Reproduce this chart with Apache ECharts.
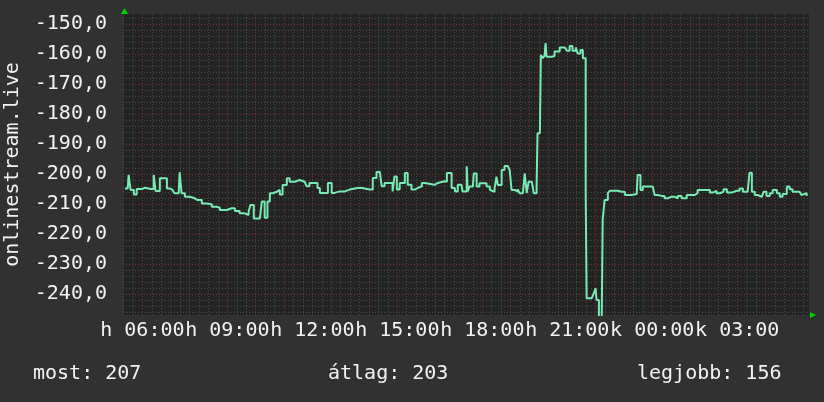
<!DOCTYPE html>
<html>
<head>
<meta charset="utf-8">
<script src="https://cdn.jsdelivr.net/npm/echarts@6/dist/echarts.min.js"></script>
<style>
html, body { margin: 0; padding: 0; background: #313131; }
#chart { width: 824px; height: 402px; }
</style>
</head>
<body>
<div id="chart"></div>
<script>
// mérési időpontok (perc, első nap 00:00-tól) és értékek
var minutes = [323,329,331,335,342,346,348,354,359,365,369,378,382,384,388,397,403,412,418,424,
  428,437,439,443,450,460,471,477,486,496,507,517,524,539,549,556,566,577,585,589,
  596,602,609,613,615,619,625,630,636,645,651,657,666,672,683,693,
  704,708,714,725,731,736,746,753,761,767,778,789,799,816,825,842,848,856,863,867,
  873,884,890,894,899,905,911,916,922,930,937,943,952,958,979,986,1000,1005,1009,1015,
  1022,1028,1036,1038,1047,1049,
  1053,1060,1062,1068,1074,1081,1089,1096,1100,1106,1110,1113,1121,1127,1134,1138,1142,1149,1155,1159,
  1166,1170,1174,1178,1185,1189,1195,1197,1202,1204,1208,1212,1214,1216,1227,1233,1244,1255,1259,1265,
  1271,1278,1282,1288,1293,1297,1299,1301,1312,1316,1320,1322,1327,1333,1335,1339,1346,
  1350,1360,1367,1375,1382,1388,1396,1407,1409,1415,1420,1435,1441,1445,1451,1460,1466,1473,1481,1488,
  1494,1502,1513,1519,1530,1536,1555,1562,1568,1576,1583,1591,1598,1608,1619,1625,1632,1642,1646,1651,
  1657,1663,1672,1676,1682,1689,1695,1704,1710,1716,1725,1731,1737,1746,1752,1756,1759,1767];

var values = [-204.8,-204.8,-200.3,-205.3,-206.8,-206.8,-205,-205,-204.6,-204.6,-205,-205,-205,-200.3,-205.7,-201.4,-201.4,-204.8,-205.3,-205.3,
  -206.4,-206.4,-199.4,-206.4,-207.6,-208.1,-208.7,-208.7,-209.8,-210.1,-210.9,-211.2,-212,-211.4,-211.4,-212.3,-213.1,-213.7,-212.6,-210.3,
  -214.8,-214.8,-214.2,-209.2,-209.2,-214.6,-209.2,-206.4,-205.9,-205.3,-206.8,-203.7,-201.4,-202.6,-202,-202.6,
  -202.4,-204.1,-203,-203,-204.7,-206.3,-206.3,-203,-206.3,-205.8,-205.8,-205.2,-204.7,-204.7,-205.2,-205.2,-201.3,-199.3,-199.3,-204.1,
  -203,-203,-205.8,-200.8,-205.2,-203,-203,-199.7,-203.6,-205.2,-204.7,-204.1,-203,-203.6,-203,-202.4,-202.6,-199.7,-199.7,-204.7,
  -205.8,-203.6,-203,-205.8,-197.4,-205.8,
  -204.2,-204.2,-199.8,-204.2,-203.1,-203.1,-204.2,-205.3,-205.9,-204.8,-200.9,-203.7,-198.7,-197.3,-197.3,-198.7,-205.3,-205.9,-205.1,-206.4,
  -206.7,-199.8,-206.4,-202.6,-202.6,-206.4,-204.2,-186.4,-186.4,-160.3,-161.4,-160.5,-156.4,-160.9,-160.7,-159.2,-157.8,-158.1,-158.9,-157.3,
  -158.9,-157.8,-159.8,-158.7,-161.4,-161.4,-206.4,-241.4,-241.4,-239.8,-238.1,-242,-248,-248,-215.3,-208.7,-206.4,
  -205.6,-205.6,-205.9,-205.9,-207,-207,-206.7,-206.4,-200.3,-205.3,-204.2,-204.2,-204.8,-207,-207.3,-207.3,-208.1,-207.6,-207.6,-208.1,
  -207.3,-208.1,-207,-207,-206.4,-205.3,-205.3,-206.2,-205.6,-206.4,-205.9,-205.1,-206.2,-205.6,-205.6,-204.8,-205.9,-205.9,-199.6,-205.9,
  -207,-207.6,-207,-205.9,-207.3,-206.4,-205.3,-206.4,-207.6,-206.7,-204.2,-205.1,-205.9,-205.9,-206.4,-207,-206.4,-207.3];

// tengelyfeliratok (két csoportban, hogy ne takarják el egymást)
var yLabels = [-150,-160,-170,-180,-190,-200,-210,-220,-230,-240];
var xLabelsA = [360,720,1080,1440];
var xLabelsB = [540,900,1260,1620];
var dayNames = ['h', 'k'];

// összesítő
var statLabels = ['most: ', 'átlag: ', 'legjobb: '];
var statValues = [207, 203, 156];

var xMin = 319, xMax = 1772;
var yMin = -247, yMax = -146.67;

var seriesData = minutes.map(function (m, i) { return [m, values[i]]; });

// rács vonalak helye
var minorX = [], hourX = [], minorY = [];
for (var m = 320; m <= 1760; m += 20) minorX.push(m);
for (var h = 360; h <= 1740; h += 60) hourX.push(h);
for (var v = -146; v >= -246; v -= 2) minorY.push(v);

var font = 'DejaVu Sans Mono';
var textColor = '#f2f2f2';

function timeLabel(val) {
  var day = Math.floor(val / 1440);
  var hh = Math.floor((val % 1440) / 60);
  return dayNames[day] + ' ' + (hh < 10 ? '0' : '') + hh + ':00';
}

var chart = echarts.init(document.getElementById('chart'));

var option = {
  animation: false,
  backgroundColor: '#313131',
  grid: {
    left: 123, right: 15, top: 14, bottom: 87,
    outerBoundsMode: 'none',
    show: true, backgroundColor: '#232323', borderWidth: 0
  },
  xAxis: [
    {
      type: 'value', min: xMin, max: xMax, position: 'bottom', z: 0,
      axisLine: { show: false },
      axisTick: { show: false, customValues: minorX },
      axisLabel: {
        customValues: xLabelsB,
        showMinLabel: true, showMaxLabel: true, hideOverlap: false,
        color: textColor, fontFamily: font, fontSize: 20, margin: 6,
        formatter: timeLabel
      },
      splitLine: { show: true, lineStyle: { color: '#4b4b4b', type: [1, 2], width: 1 } }
    },
    {
      type: 'value', min: xMin, max: xMax, position: 'bottom', z: 1,
      axisLine: { show: false },
      axisTick: { show: false, customValues: hourX },
      axisLabel: {
        customValues: xLabelsA,
        showMinLabel: true, showMaxLabel: true, hideOverlap: false,
        color: textColor, fontFamily: font, fontSize: 20, margin: 6,
        formatter: timeLabel
      },
      splitLine: { show: true, lineStyle: { color: '#7a3030', type: [1, 2], width: 1 } }
    }
  ],
  yAxis: [
    {
      type: 'value', min: yMin, max: yMax, position: 'left', z: 0,
      axisLine: { show: false },
      axisTick: { show: false, customValues: minorY },
      axisLabel: { show: false },
      splitLine: { show: true, lineStyle: { color: '#4b4b4b', type: [1, 2], width: 1 } }
    },
    {
      type: 'value', min: yMin, max: yMax, position: 'left', z: 1,
      name: 'onlinestream.live',
      nameLocation: 'middle', nameRotate: 90, nameGap: 100,
      nameTextStyle: { color: textColor, fontFamily: font, fontSize: 20 },
      axisLine: { show: false },
      axisTick: { show: false, customValues: yLabels },
      axisLabel: {
        customValues: yLabels,
        showMinLabel: true, showMaxLabel: true,
        color: textColor, fontFamily: font, fontSize: 20, margin: 16,
        formatter: function (val) { return val.toFixed(1).replace('.', ','); }
      },
      splitLine: { show: true, lineStyle: { color: '#7a3030', type: [1, 2], width: 1 } }
    }
  ],
  series: [
    {
      type: 'line',
      xAxisIndex: 1, yAxisIndex: 1,
      data: seriesData,
      symbol: 'none',
      step: 'end',
      clip: true,
      lineStyle: { color: '#78ebb4', width: 2 },
      z: 5
    }
  ],
  graphic: [
    // zöld nyilak a tengelyek végén
    { type: 'polygon', shape: { points: [[124.5, 8], [121, 14], [128, 14]] }, style: { fill: '#00d000' } },
    { type: 'polygon', shape: { points: [[810, 312], [816, 315], [810, 318]] }, style: { fill: '#00d000' } },
    { type: 'text', left: 33, top: 364, style: { text: statLabels[0] + statValues[0], fill: textColor, font: '20px "DejaVu Sans Mono"' } },
    { type: 'text', left: 328, top: 364, style: { text: statLabels[1] + statValues[1], fill: textColor, font: '20px "DejaVu Sans Mono"' } },
    { type: 'text', left: 637, top: 364, style: { text: statLabels[2] + statValues[2], fill: textColor, font: '20px "DejaVu Sans Mono"' } }
  ]
};

chart.setOption(option);
</script>
</body>
</html>
